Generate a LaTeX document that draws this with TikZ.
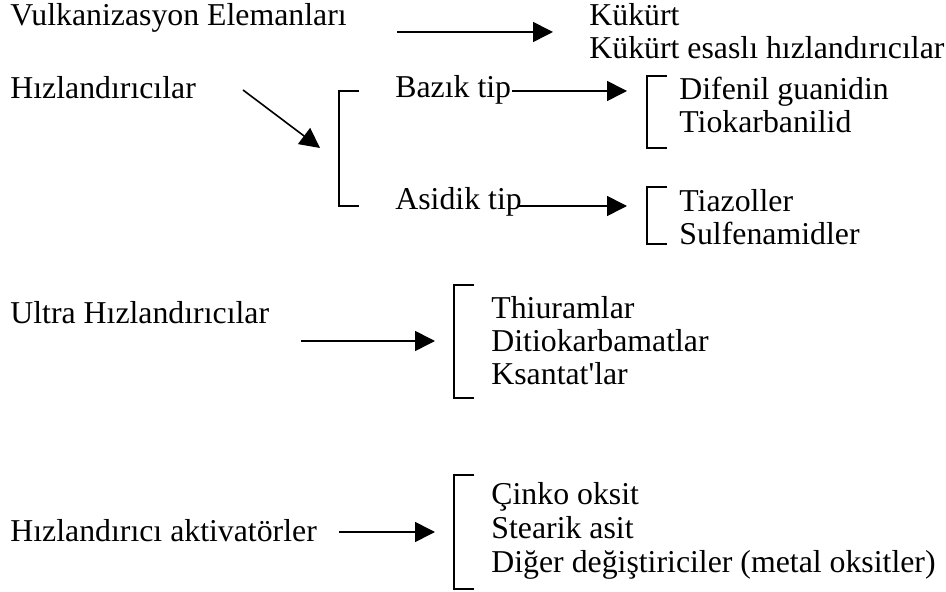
\documentclass[tikz,border=0pt]{standalone}
\usepackage{fontspec}
\setmainfont{Liberation Serif}
\usetikzlibrary{arrows.meta}

\begin{document}
\begin{tikzpicture}[
  x=0.5pt, y=-0.5pt,
  every node/.style={font=\fontsize{15.9}{17.5}\selectfont,
                     inner sep=0pt, anchor=base west},
  flowarrow/.style={-{Triangle[length=10pt,width=10pt]}, line width=0.8pt},
  brkt/.style={line width=0.7pt}
]
\useasboundingbox (0,0) rectangle (946,592);

% left column
\node (vulk)   at (10,26)   {Vulkanizasyon Elemanları};
\node (hiz)    at (10,99)   {Hızlandırıcılar};
\node (ultra)  at (10,324)  {Ultra Hızlandırıcılar};
\node (aktiv)  at (10,541)  {Hızlandırıcı aktivatörler};

% types
\node (bazik)  at (395,98)  {Bazık tip};
\node (asidik) at (395,210) {Asidik tip};

% lists
\node (kuk)    at (589,26)  {Kükürt};
\node (kukes)  at (589,59)  {Kükürt esaslı hızlandırıcılar};
\node (dfg)    at (679,100) {Difenil guanidin};
\node (tkb)    at (679,133) {Tiokarbanilid};
\node (tiaz)   at (679,212) {Tiazoller};
\node (sulf)   at (679,245) {Sulfenamidler};
\node (thiu)   at (491,319) {Thiuramlar};
\node (ditio)  at (491,352) {Ditiokarbamatlar};
\node (ksan)   at (491,385) {Ksantat\textquotesingle lar};
\node (cinko)  at (491,504) {Çinko oksit};
\node (stear)  at (491,538) {Stearik asit};
\node (diger)  at (491,572) {Diğer değiştiriciler (metal oksitler)};

% arrow ends
\coordinate (vulkA)  at (397,32);  \coordinate (vulkB)  at (553,32);
\coordinate (hizA)   at (243,90);  \coordinate (hizB)   at (320,148);
\coordinate (bazA)   at (512,91);  \coordinate (bazB)   at (627,91);
\coordinate (asiA)   at (517,206); \coordinate (asiB)   at (627,206);
\coordinate (ultA)   at (301,341); \coordinate (ultB)   at (435,341);
\coordinate (aktA)   at (339,532); \coordinate (aktB)   at (435,532);

\draw[flowarrow] (vulkA) -- (vulkB);
\draw[flowarrow] (hizA)  -- (hizB);
\draw[flowarrow] (bazA)  -- (bazB);
\draw[flowarrow] (asiA)  -- (asiB);
\draw[flowarrow] (ultA)  -- (ultB);
\draw[flowarrow] (aktA)  -- (aktB);

% brackets
\foreach \bx/\ya/\yb in {339/91/206, 647/76/148, 647/187/244,
                          454/285/398, 454/475/589}
  \draw[brkt] (\bx+20,\ya) -| (\bx,\yb) -- (\bx+20,\yb);

\end{tikzpicture}
\end{document}
